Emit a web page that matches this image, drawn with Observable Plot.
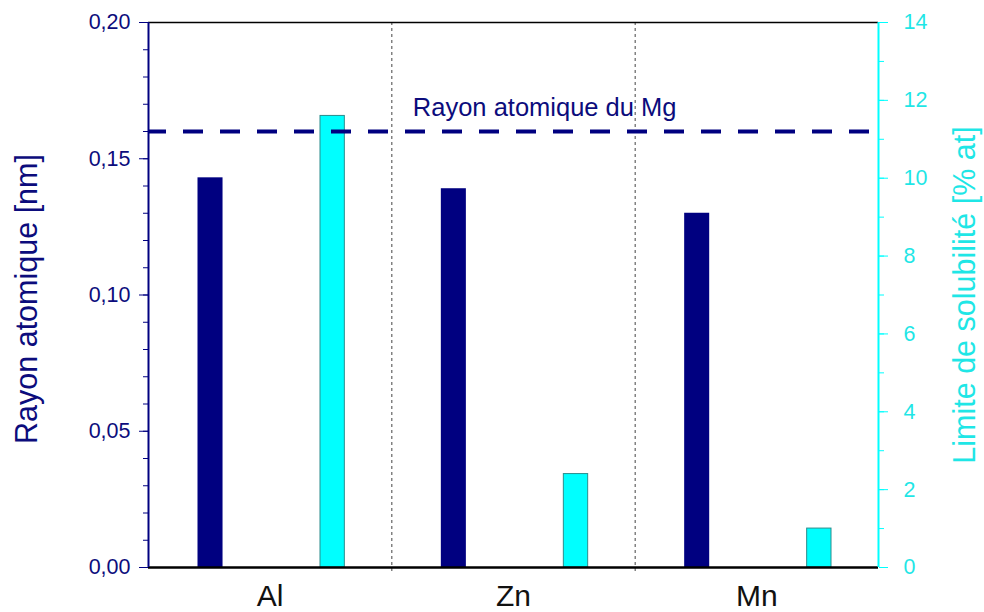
<!DOCTYPE html>
<html>
<head>
<meta charset="utf-8">
<script src="https://cdn.jsdelivr.net/npm/d3@7"></script>
<script src="https://cdn.jsdelivr.net/npm/@observablehq/plot@0.6"></script>
<style>
  html, body { margin: 0; padding: 0; background: #fff; }
  #chart { width: 984px; height: 612px; }
</style>
</head>
<body>
<div id="chart"></div>
<script>
// ---- data ----
const categories = ["Al", "Zn", "Mn"];
const rayonAtomique = [0.143, 0.139, 0.130];          // nm (left axis)
const limiteSolubilite = [11.6, 2.4, 1.0];            // % at (right axis)
const rayonMg = 0.160;
const rayonMgLabel = "Rayon atomique du Mg";
const leftTicks = [0, 0.05, 0.10, 0.15, 0.20];
const leftMinorTicks = [0,0.01,0.02,0.03,0.04,0.05,0.06,0.07,0.08,0.09,0.10,0.11,0.12,0.13,0.14,0.15,0.16,0.17,0.18,0.19,0.20];
const rightTicks = [0, 2, 4, 6, 8, 10, 12, 14];
const rightMinorTicks = [0,1,2,3,4,5,6,7,8,9,10,11,12,13,14];
const leftMax = 0.20;
const rightMax = 14;
const leftTitle = "Rayon atomique [nm]";
const rightTitle = "Limite de solubilité [% at]";

// ---- styles ----
const navy = "#000080";
const navyText = "#0c0c7c";
const cyan = "#00ffff";
const cyanText = "#1fe6e6";
const font = "'Liberation Sans', Arial, sans-serif";

const toLeft = v => v * leftMax / rightMax;
const data = categories.map((c, i) => ({cat: c, i, r: rayonAtomique[i], s: limiteSolubilite[i]}));

const chart = Plot.plot({
  width: 984,
  height: 612,
  marginLeft: 148,
  marginRight: 106,
  marginTop: 22,
  marginBottom: 45,
  style: {fontFamily: font, background: "#fff", overflow: "visible"},
  x: {type: "linear", domain: [0, categories.length]},
  y: {domain: [0, leftMax]},
  marks: [
    // separators between categories
    Plot.ruleX(d3.range(1, categories.length), {stroke: "#444", strokeWidth: 1, strokeDasharray: "3,3", insetBottom: -6}),
    // bars: atomic radius
    Plot.rectY(data, {x1: d => d.i, x2: d => d.i + 1, y: "r", fill: navy, insetLeft: 49.5, insetRight: 168.8}),
    // bars: solubility (scaled to left axis)
    Plot.rectY(data, {x1: d => d.i, x2: d => d.i + 1, y: d => toLeft(d.s), fill: cyan, stroke: "#2a8c8c", strokeWidth: 1, insetLeft: 172, insetRight: 47}),
    // Mg reference line
    Plot.ruleY([rayonMg], {stroke: navy, strokeWidth: 4, strokeDasharray: "20,17", strokeDashoffset: 2}),
    Plot.text([rayonMgLabel], {x: () => 1, y: () => rayonMg, text: d => d, textAnchor: "start", dx: 21, dy: -24,
      fill: navyText, fontSize: 25.5}),
    // frame lines
    Plot.ruleY([leftMax], {stroke: "#000", strokeWidth: 1.5}),
    Plot.ruleY([0], {stroke: "#000", strokeWidth: 2.5}),
    Plot.ruleX([0], {stroke: navy, strokeWidth: 2}),
    Plot.ruleX([categories.length], {stroke: cyan, strokeWidth: 2}),
    // left axis
    Plot.axisY(leftMinorTicks, {anchor: "left", tickSize: 5, tickFormat: () => "", color: navy, label: null}),
    Plot.axisY(leftTicks, {anchor: "left", tickSize: 9, tickPadding: 9, tickFormat: d => d.toFixed(2).replace(".", ","),
      color: navy, fill: navyText, fontSize: 21.5, label: null}),
    // right axis
    Plot.axisY(rightMinorTicks.map(toLeft), {anchor: "right", tickSize: 5, tickFormat: () => "", color: cyan, label: null}),
    Plot.axisY(rightTicks.map(toLeft), {anchor: "right", tickSize: 9, tickPadding: 16, tickFormat: d => Math.round(d * rightMax / leftMax),
      color: cyan, fill: cyanText, fontSize: 21.5, label: null}),
    // x axis labels
    Plot.axisX(categories.map((c, i) => i + 0.5), {anchor: "bottom", tickSize: 0, tickPadding: 17,
      tickFormat: d => categories[Math.floor(d)], fill: "#111", fontSize: 30,
      fontFamily: "'Liberation Sans Narrow', 'Liberation Sans', Arial, sans-serif", label: null}),
    // axis titles
    Plot.text([leftTitle], {frameAnchor: "left", textAnchor: "middle", text: d => d, rotate: -90, dx: -121, dy: 4, fill: navyText, fontSize: 30.5}),
    Plot.text([rightTitle], {frameAnchor: "right", textAnchor: "middle", text: d => d, rotate: -90, dx: 87, dy: 0, fill: cyanText, fontSize: 30.5})
  ]
});
document.getElementById("chart").appendChild(chart);
</script>
</body>
</html>
